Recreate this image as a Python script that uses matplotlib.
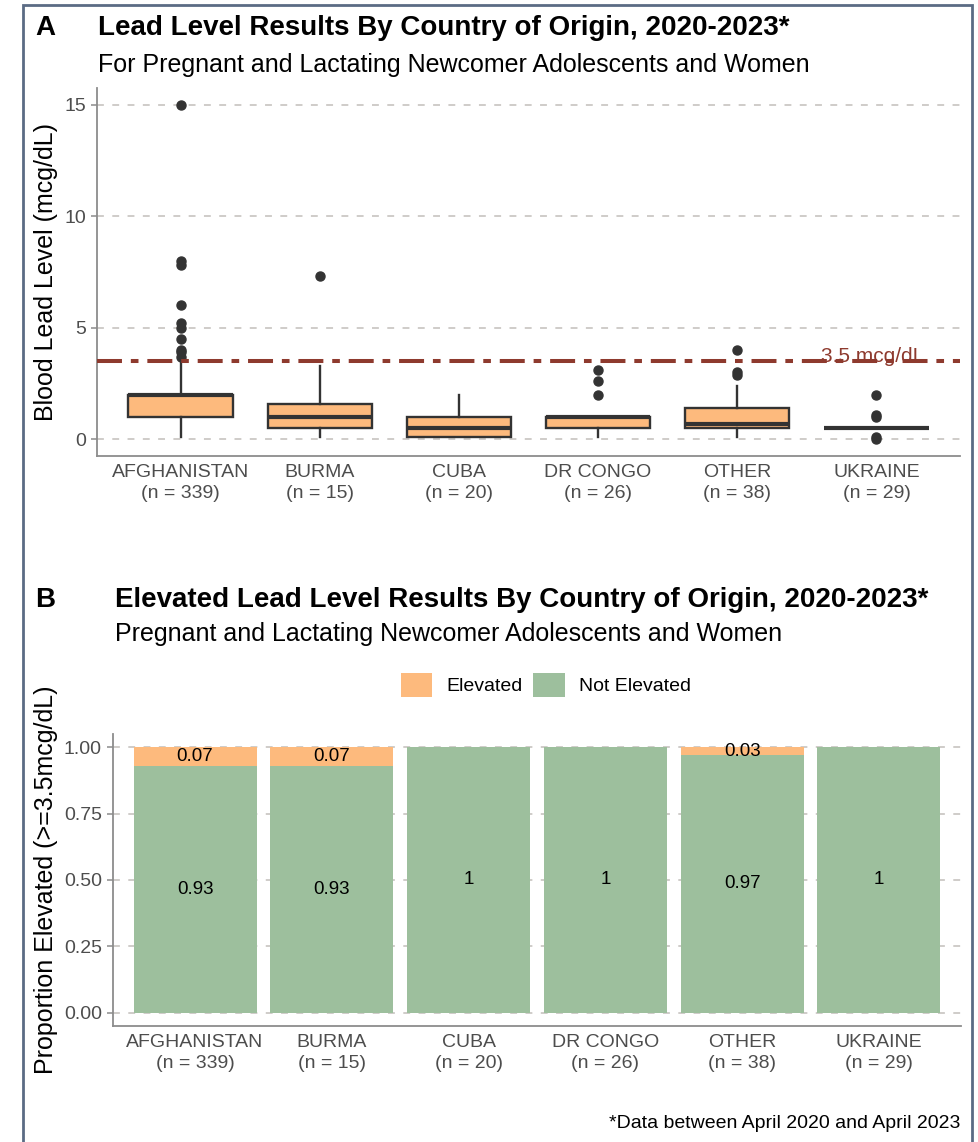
import matplotlib
matplotlib.use('Agg')
import matplotlib.pyplot as plt
from matplotlib.patches import Rectangle, Patch

plt.rcParams['font.family'] = ['Liberation Sans', 'DejaVu Sans']

countries = ['AFGHANISTAN', 'BURMA', 'CUBA', 'DR CONGO', 'OTHER', 'UKRAINE']
n_tested = [339, 15, 20, 26, 38, 29]

# box plot summaries (mcg/dL)
q1 = [1.0, 0.5, 0.1, 0.5, 0.5, 0.5]
median = [2.0, 1.0, 0.5, 1.0, 0.7, 0.5]
q3 = [2.0, 1.6, 1.0, 1.0, 1.4, 0.5]
whisker_lo = [0.1, 0.1, 0.1, 0.1, 0.1, 0.5]
whisker_hi = [3.4, 3.3, 2.0, 1.0, 2.4, 0.5]
outliers = [[15.0, 8.0, 7.8, 6.0, 5.2, 5.0, 4.5, 4.0, 3.9, 3.7],
            [7.3],
            [],
            [2.0, 2.6, 3.1],
            [2.9, 3.0, 4.0],
            [2.0, 1.1, 1.0, 0.1, 0.0]]
threshold = 3.5

# proportion elevated (>=3.5 mcg/dL)
elevated = [0.07, 0.07, 0, 0, 0.03, 0]
not_elevated = [0.93, 0.93, 1, 1, 0.97, 1]

orange = '#FDBA7D'
green = '#9DBF9D'
dark = '#333333'
red = '#8E3A2E'
grid_col = '#C2BFBB'
axis_col = '#8C8C8C'
tick_col = '#4D4D4D'

W, H = 979, 1142
fig = plt.figure(figsize=(W / 100, H / 100), dpi=100)

def fx(px):
    return px / W

def fy(py):
    return 1 - py / H

xlabels = ['{}\n(n = {})'.format(c, n) for c, n in zip(countries, n_tested)]
pos = list(range(1, len(countries) + 1))

def style_axes(ax):
    for s in ['top', 'right']:
        ax.spines[s].set_visible(False)
    for s in ['left', 'bottom']:
        ax.spines[s].set_color(axis_col)
        ax.spines[s].set_linewidth(1.3)
    ax.yaxis.grid(True, linestyle=(0, (4.5, 5.5)), color=grid_col, linewidth=1.1)
    ax.set_axisbelow(True)
    ax.tick_params(axis='x', length=0, pad=6, labelsize=14, labelcolor=tick_col)
    ax.tick_params(axis='y', length=4, width=1.1, color=axis_col, pad=4,
                   labelsize=14, labelcolor=tick_col)
    ax.set_xlim(0.4, 6.6)
    ax.set_xticks(pos)
    ax.set_xticklabels(xlabels, linespacing=1.3)

# ---- panel A: box plots
ax1 = fig.add_axes([fx(97), fy(456), fx(960) - fx(97), fy(88) - fy(456)])
stats = []
for i in range(len(countries)):
    stats.append({'med': median[i], 'q1': q1[i], 'q3': q3[i],
                  'whislo': whisker_lo[i], 'whishi': whisker_hi[i],
                  'fliers': outliers[i]})
ax1.bxp(stats, positions=pos, widths=0.75, patch_artist=True, showcaps=False,
        manage_ticks=False,
        boxprops=dict(facecolor=orange, edgecolor=dark, linewidth=1.7),
        medianprops=dict(color=dark, linewidth=3.0),
        whiskerprops=dict(color=dark, linewidth=1.7),
        flierprops=dict(marker='o', markerfacecolor=dark, markeredgecolor=dark,
                        markersize=6.5))
style_axes(ax1)
ax1.axhline(threshold, color=red, linewidth=2.9, dashes=(6.2, 2.2, 1.9, 2.2), zorder=3)
ax1.text(5.97, threshold - 0.05, '3.5 mcg/dL', color=red, fontsize=15,
         ha='center', va='baseline', zorder=4)
ax1.set_ylim(-0.75, 15.75)
ax1.set_yticks([0, 5, 10, 15])

fig.text(fx(35), fy(35), 'A', fontsize=20, fontweight='bold', va='baseline')
fig.text(fx(98), fy(35), 'Lead Level Results By Country of Origin, 2020-2023*',
         fontsize=20, fontweight='bold', va='baseline')
fig.text(fx(98), fy(72), 'For Pregnant and Lactating Newcomer Adolescents and Women',
         fontsize=18, va='baseline')
fig.text(fx(46), fy(272), 'Blood Lead Level (mcg/dL)', fontsize=18,
         rotation=90, ha='center', va='center')

# ---- panel B: stacked proportions
ax2 = fig.add_axes([fx(113), fy(1026), fx(961) - fx(113), fy(734) - fy(1026)])
style_axes(ax2)
ax2.bar(pos, not_elevated, 0.9, color=green, zorder=2)
ax2.bar(pos, elevated, 0.9, bottom=not_elevated, color=orange, zorder=2)
for x, ne, e in zip(pos, not_elevated, elevated):
    if ne > 0:
        ax2.text(x, ne / 2, '{:g}'.format(ne), ha='center', va='center', fontsize=13.5, zorder=3)
    if e > 0:
        ax2.text(x, ne + e / 2, '{:g}'.format(e), ha='center', va='center', fontsize=13.5, zorder=3)
ax2.set_ylim(-0.05, 1.05)
ax2.set_yticks([0, 0.25, 0.5, 0.75, 1.0])
ax2.set_yticklabels(['0.00', '0.25', '0.50', '0.75', '1.00'])

handles = [Patch(facecolor=orange, edgecolor='none', label='Elevated'),
           Patch(facecolor=green, edgecolor='none', label='Not Elevated')]
fig.legend(handles=handles, loc='center', bbox_to_anchor=(fx(546), fy(685)), ncol=2,
           frameon=False, fontsize=14, handlelength=1.6, handleheight=1.6,
           handletextpad=0.75, columnspacing=0.55)

fig.text(fx(35), fy(607), 'B', fontsize=20, fontweight='bold', va='baseline')
fig.text(fx(115), fy(607), 'Elevated Lead Level Results By Country of Origin, 2020-2023*',
         fontsize=20, fontweight='bold', va='baseline')
fig.text(fx(115), fy(641), 'Pregnant and Lactating Newcomer Adolescents and Women',
         fontsize=18, va='baseline')
fig.text(fx(46), fy(880), 'Proportion Elevated (>=3.5mcg/dL)', fontsize=18,
         rotation=90, ha='center', va='center')

fig.text(fx(960), fy(1128), '*Data between April 2020 and April 2023', fontsize=14,
         ha='right', va='baseline')

# outer frame, open at the bottom edge
fig.patches.append(Rectangle((fx(23), -0.05), fx(972) - fx(23), fy(5) + 0.05,
                             transform=fig.transFigure, fill=False,
                             edgecolor='#5B6B84', linewidth=2))

fig.savefig('out.png', dpi=100)
